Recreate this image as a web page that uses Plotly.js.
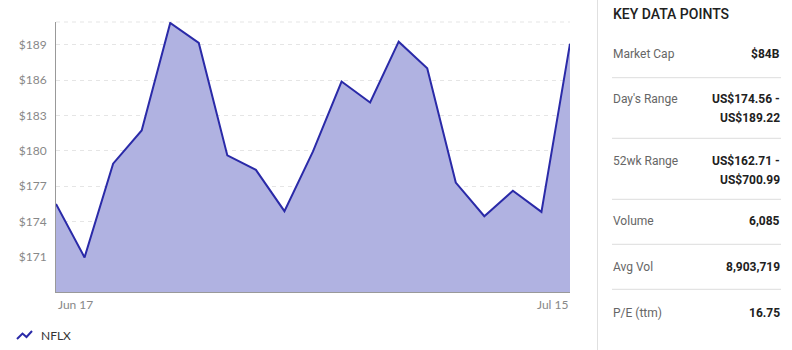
<!DOCTYPE html>
<html>
<head>
<meta charset="utf-8">
<script src="https://cdn.plot.ly/plotly-3.0.1.min.js"></script>
<style>
html,body{margin:0;padding:0;background:#fff;}
#chart{width:792px;height:350px;}
</style>
</head>
<body>
<div id="chart"></div>
<script>
// ---- data ----
var dates = ['2022-06-17','2022-06-21','2022-06-22','2022-06-23','2022-06-24','2022-06-27','2022-06-28','2022-06-29','2022-06-30','2022-07-01','2022-07-05','2022-07-06','2022-07-07','2022-07-08','2022-07-11','2022-07-12','2022-07-13','2022-07-14','2022-07-15'];
var closes = [175.49,170.94,178.91,181.73,190.87,189.17,179.61,178.38,174.87,179.95,185.89,184.11,189.28,187.02,177.30,174.44,176.60,174.81,189.11];
var xTickLabels = ['Jun 17','Jul 15'];
var yTicks = [171,174,177,180,183,186,189];
var seriesName = 'NFLX';
var panelTitle = 'KEY DATA POINTS';
var panelLabels = ['Market Cap',"Day's Range",'52wk Range','Volume','Avg Vol','P/E (ttm)'];
var panelValues = [['$84B'],['US$174.56 -','US$189.22'],['US$162.71 -','US$700.99'],['6,085'],['8,903,719'],['16.75']];

// ---- layout helpers ----
var L = 56, R = 570, T = 22, B = 292, W = 792, H = 350;
function px(x){ return (x - L) / (R - L); }
function py(y){ return (B - y) / (B - T); }

var lineColor = '#2a2aa8';
var fillColor = 'rgba(176,178,225,1)';

var trace = {
  x: dates,
  y: closes,
  type: 'scatter',
  mode: 'lines',
  line: {color: lineColor, width: 2},
  fill: 'tozeroy',
  fillcolor: fillColor,
  hoverinfo: 'x+y',
  showlegend: false
};

var annotations = [];
var shapes = [];

// x labels, anchored to first and last category
annotations.push({x: dates[0], y: py(304), xref: 'x', yref: 'paper', text: xTickLabels[0], showarrow: false, xanchor: 'left', yanchor: 'middle', font: {family: 'Lato, sans-serif', size: 12, color: '#888'}});
annotations.push({x: dates[dates.length-1], y: py(304), xref: 'x', yref: 'paper', text: xTickLabels[1], showarrow: false, xanchor: 'right', yanchor: 'middle', font: {family: 'Lato, sans-serif', size: 12, color: '#888'}});

// top dashed border line
shapes.push({type: 'line', xref: 'paper', yref: 'paper', x0: 0, x1: 1, y0: 1, y1: 1, line: {color: '#e5e5e5', width: 1, dash: '4px,4px'}, layer: 'below'});

// legend
shapes.push({type: 'path', xref: 'paper', yref: 'paper',
  path: 'M ' + px(17) + ' ' + py(339) + ' L ' + px(22.5) + ' ' + py(333.5) + ' L ' + px(26.5) + ' ' + py(337) + ' L ' + px(32) + ' ' + py(331),
  line: {color: lineColor, width: 2}});
annotations.push({x: px(39), y: py(335), xref: 'paper', yref: 'paper', text: seriesName, showarrow: false, xanchor: 'left', yanchor: 'middle', font: {family: 'Lato, sans-serif', size: 12, color: '#333'}});

// right panel
shapes.push({type: 'line', xref: 'paper', yref: 'paper', x0: px(597.5), x1: px(597.5), y0: py(0), y1: py(350), line: {color: '#e0e0e0', width: 1}});
annotations.push({x: px(611), y: py(14), xref: 'paper', yref: 'paper', text: panelTitle, showarrow: false, xanchor: 'left', yanchor: 'middle', font: {family: 'Roboto, sans-serif', size: 14, color: '#212121', weight: 500}});

var rowY = [54.3, 99.3, 161, 221.3, 266.7, 312.7];
var sepY = [77.7, 138.3, 199.3, 244.3, 289.3];
for (var i = 0; i < panelLabels.length; i++) {
  annotations.push({x: px(611), y: py(rowY[i]), xref: 'paper', yref: 'paper', text: panelLabels[i], showarrow: false, xanchor: 'left', yanchor: 'middle', font: {family: 'Roboto, sans-serif', size: 12, color: '#666'}});
  for (var j = 0; j < panelValues[i].length; j++) {
    annotations.push({x: px(782), y: py(rowY[i] + j * 19), xref: 'paper', yref: 'paper', text: panelValues[i][j], showarrow: false, xanchor: 'right', yanchor: 'middle', font: {family: 'Roboto, sans-serif', size: 12, color: '#212121', weight: 700}});
  }
}
for (var k = 0; k < sepY.length; k++) {
  shapes.push({type: 'line', xref: 'paper', yref: 'paper', x0: px(612), x1: px(781), y0: py(sepY[k]), y1: py(sepY[k]), line: {color: '#dddddd', width: 1}});
}

var layout = {
  width: W, height: H,
  margin: {l: L, r: W - R, t: T, b: H - B, pad: 0},
  paper_bgcolor: '#fff',
  plot_bgcolor: '#fff',
  showlegend: false,
  xaxis: {
    type: 'category',
    range: [0, dates.length - 1],
    showgrid: false,
    showticklabels: false,
    ticks: '',
    showline: true,
    linecolor: '#999',
    linewidth: 1,
    zeroline: false,
    fixedrange: true
  },
  yaxis: {
    range: [168, 190.95],
    tickvals: yTicks,
    ticktext: yTicks.map(function(v){ return '$' + v; }),
    ticks: '',
    ticklabelstandoff: 6,
    showgrid: true,
    gridcolor: '#e5e5e5',
    griddash: '4px,4px',
    gridwidth: 1,
    showline: true,
    linecolor: '#999',
    linewidth: 1,
    zeroline: false,
    tickfont: {family: 'Lato, sans-serif', size: 12, color: '#888'},
    fixedrange: true
  },
  shapes: shapes,
  annotations: annotations
};

Plotly.newPlot('chart', [trace], layout, {displayModeBar: false, staticPlot: true});
</script>
</body>
</html>
